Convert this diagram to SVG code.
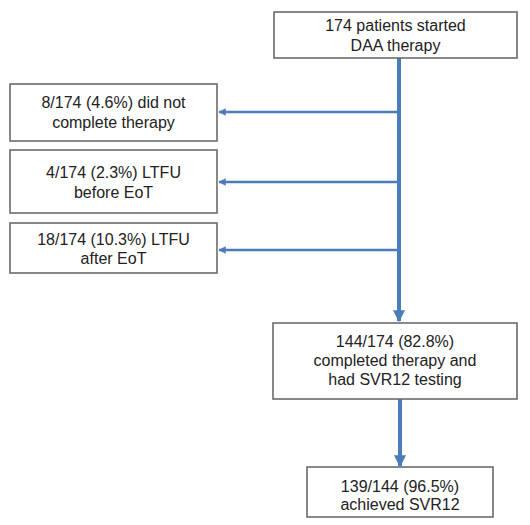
<svg xmlns="http://www.w3.org/2000/svg" width="530" height="525" viewBox="0 0 530 525">
<defs>
<style>
.box{fill:#fff;stroke:#6b6b6b;stroke-width:1.6}
.t{font-family:"Liberation Sans",Arial,sans-serif;font-size:16px;fill:#222;text-anchor:middle}
.c{stroke:#4a7ebb;fill:none}
</style>
<marker id="ah" viewBox="0 0 10 10" refX="9" refY="5" markerWidth="3" markerHeight="3" orient="auto">
<path d="M0,0 L10,5 L0,10 z" fill="#4a7ebb"/>
</marker>
</defs>
<rect width="530" height="525" fill="#fff"/>
<g id="connectors">
<line class="c" x1="399" y1="58" x2="399" y2="321" stroke-width="4" marker-end="url(#ah)"/>
<line class="c" x1="399" y1="112" x2="219" y2="112" stroke-width="2.5" marker-end="url(#ah)"/>
<line class="c" x1="399" y1="182" x2="219" y2="182" stroke-width="2.5" marker-end="url(#ah)"/>
<line class="c" x1="399" y1="250" x2="219" y2="250" stroke-width="2.5" marker-end="url(#ah)"/>
<line class="c" x1="400" y1="399" x2="400" y2="466" stroke-width="4" marker-end="url(#ah)"/>
</g>
<g id="n1"><rect class="box" x="274" y="12" width="243" height="46"/>
<text class="t" x="395.5" y="31">174 patients started</text>
<text class="t" x="395.5" y="51">DAA therapy</text></g>
<g id="n2"><rect class="box" x="10" y="84" width="207" height="57"/>
<text class="t" x="113.5" y="108">8/174 (4.6%) did not</text>
<text class="t" x="113.5" y="128">complete therapy</text></g>
<g id="n3"><rect class="box" x="10" y="150" width="207" height="63"/>
<text class="t" x="113.5" y="178">4/174 (2.3%) LTFU</text>
<text class="t" x="113.5" y="198">before EoT</text></g>
<g id="n4"><rect class="box" x="10" y="223" width="207" height="50"/>
<text class="t" x="113.5" y="245">18/174 (10.3%) LTFU</text>
<text class="t" x="113.5" y="264">after EoT</text></g>
<g id="n5"><rect class="box" x="273" y="323" width="244" height="76"/>
<text class="t" x="395" y="347">144/174 (82.8%)</text>
<text class="t" x="395" y="366">completed therapy and</text>
<text class="t" x="395" y="385">had SVR12 testing</text></g>
<g id="n6"><rect class="box" x="307" y="467" width="186" height="50"/>
<text class="t" x="400" y="492">139/144 (96.5%)</text>
<text class="t" x="400" y="510">achieved SVR12</text></g>
</svg>
